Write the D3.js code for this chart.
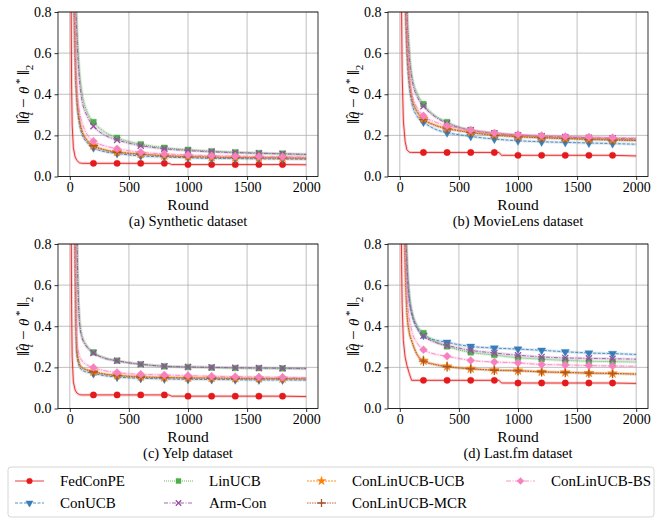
<!DOCTYPE html>
<html>
<head>
<meta charset="utf-8">
<script src="https://cdn.jsdelivr.net/npm/d3@7"></script>
<style>
  body { margin: 0; background: #fff; }
  svg { font-family: "Liberation Serif", "DejaVu Serif", serif; }
</style>
</head>
<body>
<svg id="main" width="663" height="519"></svg>
<script>
const ROUNDS = [20, 30, 40, 50, 60, 80, 100, 150, 200, 300, 400, 500, 600, 800, 1000, 1200, 1400, 1600, 1800, 2000];
const FED_ROUNDS = [5, 10, 15, 20, 30, 45, 60, 80, 100, 200, 400, 600, 800, 840, 860, 1000, 1200, 1400, 1600, 1800, 2000];
const MARK_ROUNDS = [200, 400, 600, 800, 1000, 1200, 1400, 1600, 1800];

const DATASETS = ["(a) Synthetic dataset", "(b) MovieLens dataset", "(c) Yelp dataset", "(d) Last.fm dataset"];
const ALGOS = ["FedConPE", "ConUCB", "LinUCB", "Arm-Con", "ConLinUCB-UCB", "ConLinUCB-MCR", "ConLinUCB-BS"];
const X_TICKS = [0, 500, 1000, 1500, 2000];
const Y_TICKS = [0, 0.2, 0.4, 0.6, 0.8];

// one array per dataset: synthetic, movielens, yelp, lastfm
const fedconpe = [
  [3.0, 1.0, 0.45, 0.25, 0.14, 0.095, 0.078, 0.067, 0.064, 0.064, 0.064, 0.064, 0.064, 0.064, 0.058, 0.058, 0.058, 0.058, 0.058, 0.058, 0.057],
  [3.0, 1.3, 0.8, 0.5, 0.27, 0.17, 0.13, 0.118, 0.117, 0.117, 0.117, 0.117, 0.117, 0.117, 0.103, 0.103, 0.103, 0.103, 0.103, 0.103, 0.1],
  [3.0, 1.2, 0.5, 0.25, 0.13, 0.09, 0.075, 0.068, 0.066, 0.066, 0.066, 0.066, 0.066, 0.066, 0.06, 0.06, 0.06, 0.06, 0.06, 0.06, 0.058],
  [3.0, 1.2, 0.7, 0.5, 0.33, 0.25, 0.21, 0.17, 0.137, 0.137, 0.137, 0.137, 0.137, 0.137, 0.124, 0.124, 0.124, 0.124, 0.124, 0.124, 0.122]
];
const conucb = [
  [1.8, 1.05, 0.7, 0.47, 0.36, 0.26, 0.21, 0.163, 0.14, 0.12, 0.112, 0.105, 0.1, 0.095, 0.091, 0.088, 0.087, 0.086, 0.085, 0.084],
  [2.5, 1.6, 1.05, 0.76, 0.6, 0.44, 0.36, 0.29, 0.265, 0.23, 0.213, 0.203, 0.195, 0.182, 0.174, 0.169, 0.166, 0.163, 0.16, 0.157],
  [2.8, 1.9, 1.0, 0.45, 0.26, 0.205, 0.188, 0.176, 0.17, 0.159, 0.153, 0.149, 0.147, 0.144, 0.142, 0.141, 0.14, 0.139, 0.139, 0.138],
  [2.5, 1.6, 1.05, 0.8, 0.66, 0.52, 0.46, 0.385, 0.356, 0.333, 0.322, 0.31, 0.302, 0.294, 0.289, 0.283, 0.276, 0.27, 0.267, 0.263]
];
const linucb = [
  [3.0, 2.0, 1.3, 0.95, 0.75, 0.52, 0.42, 0.31, 0.265, 0.215, 0.188, 0.17, 0.157, 0.14, 0.13, 0.123, 0.118, 0.114, 0.111, 0.108],
  [3.5, 2.3, 1.5, 1.1, 0.85, 0.62, 0.5, 0.4, 0.352, 0.295, 0.265, 0.24, 0.226, 0.21, 0.2, 0.194, 0.189, 0.185, 0.181, 0.178],
  [4.0, 3.0, 2.0, 1.4, 0.9, 0.45, 0.36, 0.3, 0.273, 0.245, 0.233, 0.222, 0.215, 0.205, 0.202, 0.199, 0.197, 0.196, 0.195, 0.193],
  [3.0, 2.0, 1.3, 0.95, 0.75, 0.56, 0.48, 0.4, 0.367, 0.325, 0.302, 0.285, 0.273, 0.26, 0.247, 0.24, 0.234, 0.23, 0.228, 0.226]
];
const armcon = [
  [2.8, 1.8, 1.2, 0.85, 0.68, 0.48, 0.38, 0.29, 0.245, 0.2, 0.178, 0.162, 0.15, 0.135, 0.126, 0.12, 0.116, 0.113, 0.11, 0.107],
  [3.3, 2.1, 1.4, 1.0, 0.8, 0.58, 0.48, 0.385, 0.342, 0.29, 0.258, 0.238, 0.225, 0.21, 0.201, 0.196, 0.192, 0.189, 0.186, 0.184],
  [4.0, 3.0, 2.0, 1.3, 0.85, 0.43, 0.35, 0.295, 0.27, 0.243, 0.232, 0.222, 0.215, 0.206, 0.202, 0.2, 0.198, 0.197, 0.196, 0.195],
  [2.8, 1.9, 1.2, 0.9, 0.72, 0.54, 0.47, 0.39, 0.354, 0.322, 0.307, 0.294, 0.283, 0.27, 0.259, 0.251, 0.246, 0.244, 0.242, 0.24]
];
const conlinucbUcb = [
  [1.9, 1.1, 0.75, 0.5, 0.39, 0.28, 0.23, 0.175, 0.152, 0.13, 0.12, 0.114, 0.11, 0.102, 0.098, 0.095, 0.093, 0.092, 0.091, 0.09],
  [2.7, 1.7, 1.15, 0.84, 0.66, 0.48, 0.39, 0.315, 0.282, 0.25, 0.235, 0.225, 0.216, 0.203, 0.195, 0.19, 0.186, 0.182, 0.179, 0.177],
  [3.0, 2.0, 1.1, 0.5, 0.28, 0.22, 0.2, 0.188, 0.18, 0.168, 0.162, 0.158, 0.155, 0.152, 0.15, 0.149, 0.148, 0.147, 0.146, 0.146],
  [2.3, 1.4, 0.85, 0.6, 0.47, 0.37, 0.33, 0.26, 0.233, 0.215, 0.205, 0.198, 0.194, 0.187, 0.185, 0.179, 0.176, 0.173, 0.171, 0.168]
];
const conlinucbMcr = [
  [1.9, 1.1, 0.74, 0.5, 0.38, 0.28, 0.225, 0.172, 0.15, 0.128, 0.118, 0.112, 0.108, 0.1, 0.096, 0.094, 0.092, 0.091, 0.09, 0.089],
  [2.7, 1.7, 1.15, 0.83, 0.65, 0.47, 0.385, 0.31, 0.278, 0.248, 0.232, 0.222, 0.213, 0.2, 0.193, 0.188, 0.184, 0.18, 0.177, 0.175],
  [3.0, 2.0, 1.1, 0.5, 0.28, 0.22, 0.2, 0.186, 0.178, 0.166, 0.16, 0.156, 0.153, 0.15, 0.148, 0.147, 0.146, 0.145, 0.145, 0.144],
  [2.3, 1.4, 0.85, 0.6, 0.47, 0.37, 0.33, 0.258, 0.23, 0.213, 0.203, 0.197, 0.193, 0.186, 0.183, 0.178, 0.175, 0.172, 0.17, 0.167]
];
const conlinucbBs = [
  [2.0, 1.2, 0.8, 0.55, 0.43, 0.32, 0.27, 0.2, 0.172, 0.148, 0.135, 0.125, 0.118, 0.11, 0.105, 0.101, 0.099, 0.097, 0.096, 0.095],
  [2.8, 1.8, 1.2, 0.88, 0.7, 0.5, 0.41, 0.33, 0.295, 0.265, 0.247, 0.235, 0.226, 0.212, 0.204, 0.199, 0.195, 0.192, 0.189, 0.187],
  [3.0, 2.0, 1.2, 0.6, 0.33, 0.26, 0.235, 0.21, 0.199, 0.183, 0.175, 0.169, 0.166, 0.163, 0.16, 0.157, 0.155, 0.153, 0.152, 0.15],
  [2.5, 1.5, 0.95, 0.7, 0.56, 0.44, 0.38, 0.315, 0.286, 0.264, 0.254, 0.243, 0.234, 0.226, 0.222, 0.214, 0.212, 0.209, 0.207, 0.205]
];

const VALUES = [fedconpe, conucb, linucb, armcon, conlinucbUcb, conlinucbMcr, conlinucbBs];

// styles
const COLORS = ["#e41a1c", "#377eb8", "#4daf4a", "#984ea3", "#ff7f00", "#a65628", "#f781bf"];
const DASHES = [null, "3,1.5", "1,1", "4,1.5,1,1.5", "2,1", "1.5,1", "5,1.5,1,1.5"];
const SYMBOLS = [
  {type: d3.symbolCircle, size: 32, fill: true, rot: 0},
  {type: d3.symbolTriangle, size: 28, fill: true, rot: 180},
  {type: d3.symbolSquare, size: 32, fill: true, rot: 0},
  {type: d3.symbolX, size: 26, fill: false, rot: 0},
  {type: d3.symbolStar, size: 30, fill: true, rot: 0},
  {type: d3.symbolPlus, size: 30, fill: false, rot: 0},
  {type: d3.symbolSquare, size: 32, fill: true, rot: 45}
];

const SERIF = "'Liberation Serif', 'DejaVu Serif', serif";
const svg = d3.select("#main");

const panels = [
  {left: 58, top: 12},
  {left: 388, top: 12},
  {left: 58, top: 244},
  {left: 388, top: 244}
];
const pw = 260, ph = 164.5;

function drawMarker(g, k, x, y, scale) {
  const s = SYMBOLS[k];
  g.append("path")
    .attr("d", d3.symbol().type(s.type).size(s.size * scale)())
    .attr("transform", `translate(${x},${y}) rotate(${s.rot})`)
    .attr("fill", s.fill ? COLORS[k] : "none")
    .attr("stroke", COLORS[k])
    .attr("stroke-width", s.fill ? 0.4 : 1.3);
}

panels.forEach((p, di) => {
  const g = svg.append("g").attr("transform", `translate(${p.left},${p.top})`);

  const x = d3.scaleLinear().domain([-100, 2100]).range([0, pw]);
  const y = d3.scaleLinear().domain([0, 0.8]).range([ph, 0]);

  // grid
  g.append("g").selectAll("line").data(X_TICKS).join("line")
    .attr("x1", d => x(d)).attr("x2", d => x(d))
    .attr("y1", 0).attr("y2", ph)
    .attr("stroke", "#b0b0b0").attr("stroke-width", 0.8);
  g.append("g").selectAll("line").data(Y_TICKS).join("line")
    .attr("x1", 0).attr("x2", pw)
    .attr("y1", d => y(d)).attr("y2", d => y(d))
    .attr("stroke", "#b0b0b0").attr("stroke-width", 0.8);

  const clipId = "clip" + di;
  g.append("clipPath").attr("id", clipId)
    .append("rect").attr("width", pw).attr("height", ph);

  const plot = g.append("g").attr("clip-path", `url(#${clipId})`);

  ALGOS.forEach((name, k) => {
    const rounds = k === 0 ? FED_ROUNDS : ROUNDS;
    const vals = VALUES[k][di];
    const pts = rounds.map((r, i) => ({r: r, v: vals[i]}));
    const line = d3.line()
      .x(d => x(d.r)).y(d => y(d.v))
      .curve(k === 0 ? d3.curveLinear : d3.curveMonotoneX);

    // faint band round each curve
    plot.append("path").datum(pts)
      .attr("d", line)
      .attr("fill", "none")
      .attr("stroke", COLORS[k])
      .attr("stroke-opacity", 0.18)
      .attr("stroke-width", 3);

    plot.append("path").datum(pts)
      .attr("d", line)
      .attr("fill", "none")
      .attr("stroke", COLORS[k])
      .attr("stroke-opacity", 0.85)
      .attr("stroke-width", 1)
      .attr("stroke-dasharray", DASHES[k]);

    pts.filter(d => MARK_ROUNDS.includes(d.r)).forEach(d => {
      drawMarker(plot, k, x(d.r), y(d.v), 1);
    });
  });

  // frame
  g.append("rect").attr("width", pw).attr("height", ph)
    .attr("fill", "none").attr("stroke", "#000").attr("stroke-width", 0.8);

  // axes
  const xAxis = g.append("g")
    .attr("transform", `translate(0,${ph})`)
    .call(d3.axisBottom(x).tickValues(X_TICKS).tickSize(3.5).tickPadding(2).tickFormat(d3.format("d")));
  const yAxis = g.append("g")
    .call(d3.axisLeft(y).tickValues(Y_TICKS).tickSize(3.5).tickPadding(3).tickFormat(d3.format(".1f")));
  [xAxis, yAxis].forEach(a => {
    a.attr("font-family", SERIF).attr("font-size", 14);
    a.select(".domain").remove();
    a.selectAll("line").attr("stroke", "#000").attr("stroke-width", 0.8);
    a.selectAll("text").attr("fill", "#000");
  });

  g.append("text")
    .attr("x", pw / 2).attr("y", ph + 33)
    .attr("text-anchor", "middle").attr("font-size", 15.5)
    .text("Round");
  g.append("text")
    .attr("x", pw / 2).attr("y", ph + 49)
    .attr("text-anchor", "middle").attr("font-size", 14.5)
    .text(DATASETS[di]);

  // y label: ||theta-hat_t - theta^*||_2
  const yl = g.append("text")
    .attr("transform", `translate(-29,${ph / 2}) rotate(-90)`)
    .attr("text-anchor", "middle").attr("font-size", 17);
  yl.append("tspan").text("\u2016");
  yl.append("tspan").attr("font-style", "italic").attr("font-size", 15).text("\u03B8");
  yl.append("tspan").attr("font-size", 13).attr("dx", -7).attr("dy", -4).text("\u02C6");
  yl.append("tspan").attr("font-style", "italic").attr("font-size", 11).attr("dx", -1).attr("dy", 8).text("t");
  yl.append("tspan").attr("dy", -4).text(" \u2212 ");
  yl.append("tspan").attr("font-style", "italic").attr("font-size", 15).text("\u03B8");
  yl.append("tspan").attr("font-size", 11).attr("dy", -6).text(" *");
  yl.append("tspan").attr("dy", 6).text("\u2009\u2016");
  yl.append("tspan").attr("font-size", 11).attr("dy", 4).text("2");
});

// legend
const legend = svg.append("g");
legend.append("rect")
  .attr("x", 8).attr("y", 467).attr("width", 646).attr("height", 50).attr("rx", 3)
  .attr("fill", "#fff").attr("stroke", "#cccccc").attr("stroke-width", 0.8);

const colX = [15, 164, 307, 506];
const rowY = [481, 503];
ALGOS.forEach((name, k) => {
  const col = Math.floor(k / 2), row = k % 2;
  const hx = colX[col], hy = rowY[row];
  legend.append("line")
    .attr("x1", hx).attr("x2", hx + 29).attr("y1", hy).attr("y2", hy)
    .attr("stroke", COLORS[k]).attr("stroke-opacity", 0.85)
    .attr("stroke-width", 1).attr("stroke-dasharray", DASHES[k]);
  drawMarker(legend, k, hx + 14.5, hy, 0.8);
  legend.append("text")
    .attr("x", hx + 45).attr("y", hy + 5)
    .attr("font-size", 15)
    .text(name);
});
</script>
</body>
</html>
